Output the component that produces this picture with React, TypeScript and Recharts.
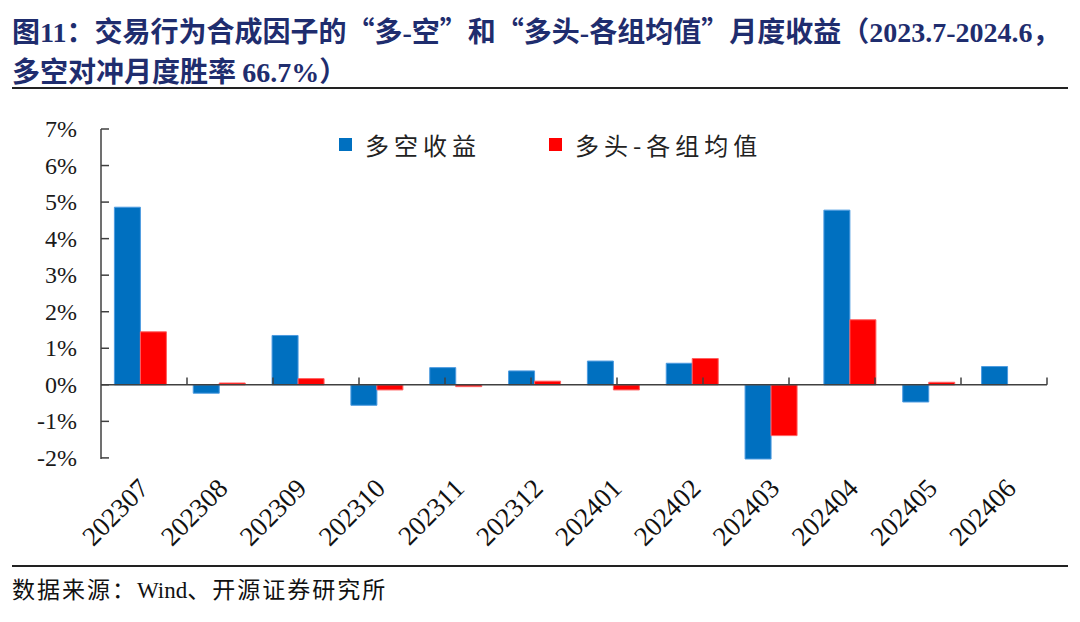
import React from 'react';
import { BarChart, Bar, XAxis, YAxis, ReferenceLine, Legend } from 'recharts';

// monthly returns, in %
const months = ['202307', '202308', '202309', '202310', '202311', '202312', '202401', '202402', '202403', '202404', '202405', '202406'];
const longShort = [4.86, -0.23, 1.35, -0.56, 0.47, 0.38, 0.65, 0.59, -2.03, 4.78, -0.47, 0.5];
const longAvg = [1.45, 0.05, 0.17, -0.14, -0.05, 0.1, -0.14, 0.72, -1.39, 1.78, 0.07, 0];
const yTicks = [-2, -1, 0, 1, 2, 3, 4, 5, 6, 7];
const seriesOrder = ['ls', 'avg'];

const data = months.map((m, i) => ({ month: m, ls: longShort[i], avg: longAvg[i] }));

const SERIF = '"Liberation Serif", "Noto Sans CJK SC", serif';
const CJK = '"Noto Sans CJK SC", sans-serif';
const AXIS = '#404040';
const NAVY = '#1f2d6e';

const YTick = (props: any) => {
  const { x, y, payload } = props;
  return (
    <g>
      <text x={x} y={y} dy={8} textAnchor="end" fontFamily={SERIF} fontSize={24} fill="#1a1a1a">
        {`${payload.value}%`}
      </text>
      <line x1={x + 24} x2={x + 32} y1={y} y2={y} stroke={AXIS} strokeWidth={1.5} />
    </g>
  );
};

const XTick = (props: any) => {
  const { x, y, payload } = props;
  const tx = x + 10;
  const ty = y + 31;
  return (
    <text x={tx} y={ty} transform={`rotate(-45, ${tx}, ${ty})`} textAnchor="end" fontFamily={SERIF} fontSize={27} fill="#111">
      {payload.value}
    </text>
  );
};

const LegendContent = (props: any) => {
  const items = [...(props.payload || [])].sort(
    (a: any, b: any) => seriesOrder.indexOf(a.dataKey) - seriesOrder.indexOf(b.dataKey)
  );
  return (
    <div style={{ display: 'flex', alignItems: 'center', fontFamily: CJK, fontSize: 24, letterSpacing: 5, color: '#222', whiteSpace: 'nowrap' }}>
      {items.map((p: any, i: number) => (
        <div key={p.value} style={{ display: 'flex', alignItems: 'center', marginRight: i === 0 ? 68 : 0 }}>
          <span style={{ display: 'inline-block', width: 13, height: 13, background: p.color, marginRight: 13 }} />
          <span>{p.value}</span>
        </div>
      ))}
    </div>
  );
};

const Num = ({ children }: { children: React.ReactNode }) => (
  <span style={{ fontFamily: SERIF }}>{children}</span>
);

export default function App() {
  const titleStyle: React.CSSProperties = {
    position: 'absolute',
    left: 12,
    fontFamily: CJK,
    fontWeight: 700,
    fontSize: 28,
    lineHeight: '38px',
    color: NAVY,
    whiteSpace: 'nowrap',
  };
  return (
    <div style={{ position: 'absolute', left: 0, top: 0, width: 1080, height: 622, background: '#fff', overflow: 'hidden' }}>
      {/* title */}
      <div style={{ ...titleStyle, top: 11 }}>
        图<Num>11</Num>：交易行为合成因子的“多<Num>-</Num>空”和“多头<Num>-</Num>各组均值”月度收益（<Num>2023.7-2024.6</Num>，
      </div>
      <div style={{ ...titleStyle, top: 51 }}>
        多空对冲月度胜率 <Num>66.7%</Num>）
      </div>
      <div style={{ position: 'absolute', left: 12, top: 87, width: 1056, height: 2, background: '#222' }} />

      <div style={{ position: 'absolute', left: 0, top: 100 }}>
        <BarChart width={1080} height={460} data={data} margin={{ top: 29, right: 33, bottom: 6, left: 0 }} barCategoryGap="17%" barGap={0}>
          <XAxis dataKey="month" axisLine={false} tickLine={false} tickSize={0} tickMargin={0} height={95} interval={0} tick={<XTick />} />
          <XAxis xAxisId="pos" type="number" domain={[0, 12]} hide />
          <YAxis
            domain={[-2, 7]}
            ticks={yTicks}
            interval={0}
            width={101}
            axisLine={{ stroke: AXIS, strokeWidth: 1.5 }}
            tickLine={false}
            tickSize={0}
            tickMargin={24}
            tick={<YTick />}
          />
          <Legend layout="horizontal" verticalAlign="middle" wrapperStyle={{ top: 27, left: 339, width: 'auto' }} content={<LegendContent />} />
          <Bar dataKey="ls" name="多空收益" fill="#0070C0" stroke="#4d9be0" strokeWidth={1} isAnimationActive={false} />
          <Bar dataKey="avg" name="多头-各组均值" fill="#FF0000" stroke="#ff6060" strokeWidth={1} isAnimationActive={false} />
          <ReferenceLine y={0} stroke={AXIS} strokeWidth={1.5} />
          {months.map((m, i) => (
            <ReferenceLine
              key={m}
              xAxisId="pos"
              segment={[{ x: i + 1, y: 0 }, { x: i + 1, y: 0.2 }]}
              stroke={AXIS}
              strokeWidth={1.5}
            />
          ))}
        </BarChart>
      </div>

      <div style={{ position: 'absolute', left: 12, top: 565, width: 1056, height: 2, background: '#222' }} />
      <div style={{ position: 'absolute', left: 12, top: 574, fontFamily: CJK, fontSize: 23, letterSpacing: 2, lineHeight: '28px', color: '#111', whiteSpace: 'nowrap' }}>
        数据来源：<span style={{ fontFamily: SERIF, letterSpacing: 0 }}>Wind</span>、开源证券研究所
      </div>
    </div>
  );
}
